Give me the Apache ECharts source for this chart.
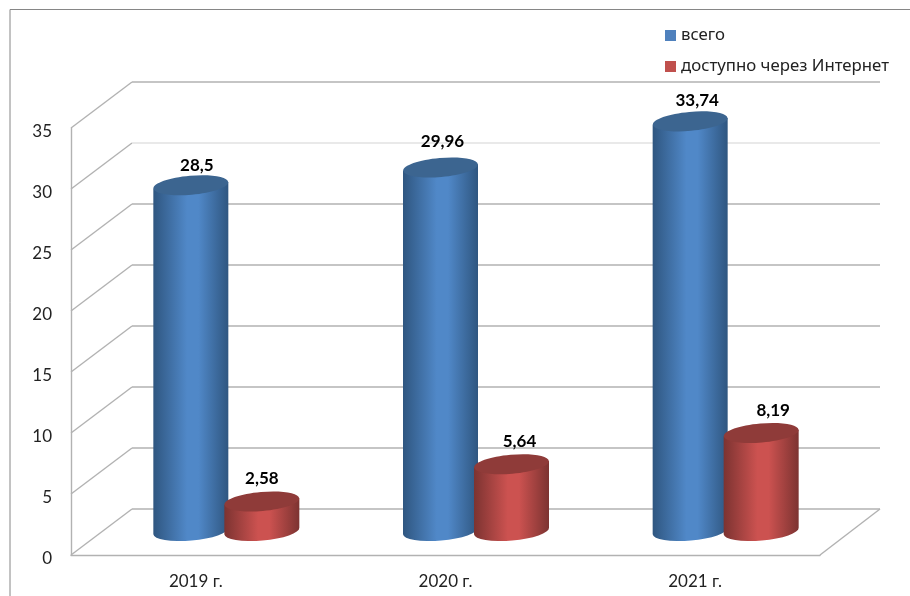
<!DOCTYPE html>
<html>
<head>
<meta charset="utf-8">
<style>
  html, body { margin: 0; padding: 0; background: #fff; }
  #chart { width: 910px; height: 596px; }
</style>
<script src="https://cdn.jsdelivr.net/npm/echarts@6/dist/echarts.min.js"></script>
</head>
<body>
<div id="chart"></div>
<script>
// данные
var years = ['2019 г.', '2020 г.', '2021 г.'];
var vsego = [28.5, 29.96, 33.74];
var internet = [2.58, 5.64, 8.19];
var yTicks = [0, 5, 10, 15, 20, 25, 30, 35];

// "3d" box depth in px
var DEPTH_X = 61, DEPTH_Y = 46;
var BAR_RX = 37.5, BAR_RY = 9.5, BAR_TILT = -5;
var FONT = 'Lato, "Noto Sans", sans-serif';
var WALL = '#b2b2b2';

function gradient(edge, mid) {
  return {
    type: 'linear', x: 0, y: 0, x2: 1, y2: 0,
    colorStops: [
      { offset: 0, color: edge },
      { offset: 0.45, color: mid },
      { offset: 0.6, color: mid },
      { offset: 1, color: edge }
    ]
  };
}

// walls and floor
function renderWall(params, api) {
  var v = api.value(1);
  var p = api.coord([0, v]);
  var cs = params.coordSys;
  var left = cs.x;
  var right = cs.x + cs.width;
  var backY = p[1] - DEPTH_Y;
  var children = [
    {
      type: 'line',
      silent: true,
      shape: { x1: left, y1: p[1], x2: left + DEPTH_X, y2: backY },
      style: { stroke: WALL, lineWidth: 1.4 }
    },
    {
      type: 'line',
      silent: true,
      shape: { x1: left + DEPTH_X, y1: backY, x2: right + DEPTH_X - 1, y2: backY },
      // the 30 line is much fainter in the picture
      style: { stroke: v === 30 ? '#e2e2e2' : WALL, lineWidth: 1.4 }
    }
  ];
  if (v === 0) {
    children.push({
      type: 'line',
      silent: true,
      shape: { x1: right, y1: p[1], x2: right + DEPTH_X - 1, y2: backY },
      style: { stroke: WALL, lineWidth: 1.4 }
    });
  }
  return { type: 'group', children: children };
}

// one cylinder, dir = -1 left of the category, 1 right
function cylinder(dir, body, top, nudges) {
  return function (params, api) {
    var i = api.value(0);
    var v = api.value(1);
    var p0 = api.coord([i, 0]);
    var p1 = api.coord([i, v]);
    var cx = p0[0] + DEPTH_X / 2 + dir * 35.5;
    var yb = p0[1] - DEPTH_Y / 2 - 1;
    var yt = p1[1] - DEPTH_Y / 2 + 1;
    var dy = BAR_RX * Math.sin(-BAR_TILT * Math.PI / 180);
    var arc = 'A' + BAR_RX + ' ' + BAR_RY + ' ' + BAR_TILT + ' 0 0 ';
    var d = 'M' + (cx - BAR_RX) + ' ' + (yt + dy) +
      'L' + (cx - BAR_RX) + ' ' + (yb + dy) +
      arc + (cx + BAR_RX) + ' ' + (yb - dy) +
      'L' + (cx + BAR_RX) + ' ' + (yt - dy) + 'Z';
    return {
      type: 'group',
      children: [
        { type: 'path', shape: { pathData: d }, style: { fill: body } },
        {
          type: 'ellipse',
          x: cx, y: yt,
          rotation: -BAR_TILT * Math.PI / 180,
          shape: { cx: 0, cy: 0, rx: BAR_RX, ry: BAR_RY },
          style: { fill: top }
        },
        {
          type: 'text',
          x: cx + nudges[i][0], y: yt + nudges[i][1],
          style: {
            text: String(v).replace('.', ','),
            fill: '#000',
            font: 'bold 17px ' + FONT,
            textAlign: 'center',
            textVerticalAlign: 'middle'
          }
        }
      ]
    };
  };
}

var chart = echarts.init(document.getElementById('chart'), null, { renderer: 'canvas' });

var option = {
  animation: false,
  backgroundColor: '#fff',
  graphic: [{
    type: 'polyline',
    silent: true,
    shape: { points: [[10, 596], [10, 9.5], [910, 9.5]] },
    style: { stroke: '#868686', lineWidth: 1, fill: null }
  }],
  legend: {
    data: [{ name: 'всего', icon: 'rect' }, { name: 'доступно через Интернет', icon: 'rect' }],
    orient: 'vertical',
    left: 660,
    top: 22,
    itemWidth: 11,
    itemHeight: 11,
    itemGap: 14,
    selectedMode: false,
    textStyle: { fontFamily: '"Noto Sans", sans-serif', fontSize: 16.8, color: '#222' }
  },
  grid: { left: 71, right: 90, top: 128, bottom: 41 },
  xAxis: {
    type: 'category',
    data: years,
    axisTick: { show: false },
    axisLine: { lineStyle: { color: WALL, width: 1.4 } },
    axisLabel: { fontFamily: FONT, fontSize: 17, color: '#222', margin: 18 }
  },
  yAxis: {
    type: 'value',
    min: 0,
    max: 35,
    interval: 5,
    splitLine: { show: false },
    axisTick: { show: false },
    axisLine: { show: true, lineStyle: { color: WALL, width: 1.4 } },
    axisLabel: { fontFamily: FONT, fontSize: 17, color: '#222', margin: 19, verticalAlign: 'top', lineHeight: 8 }
  },
  series: [
    {
      type: 'custom',
      name: 'стенки',
      silent: true,
      clip: false,
      renderItem: renderWall,
      data: yTicks.map(function (t) { return [0, t]; })
    },
    {
      type: 'custom',
      name: 'всего',
      clip: false,
      itemStyle: { color: '#4f81bd' },
      renderItem: cylinder(-1, gradient('#2f5680', '#5088c8'), '#3c6590', [[6, -20], [2, -26], [7, -21]]),
      data: vsego.map(function (v, i) { return [i, v]; })
    },
    {
      type: 'custom',
      name: 'доступно через Интернет',
      clip: false,
      itemStyle: { color: '#c0504d' },
      renderItem: cylinder(1, gradient('#7c3331', '#cc5250'), '#8f3b39', [[0, -23], [8, -23], [12, -23]]),
      data: internet.map(function (v, i) { return [i, v]; })
    }
  ]
};

chart.setOption(option);
</script>
</body>
</html>
